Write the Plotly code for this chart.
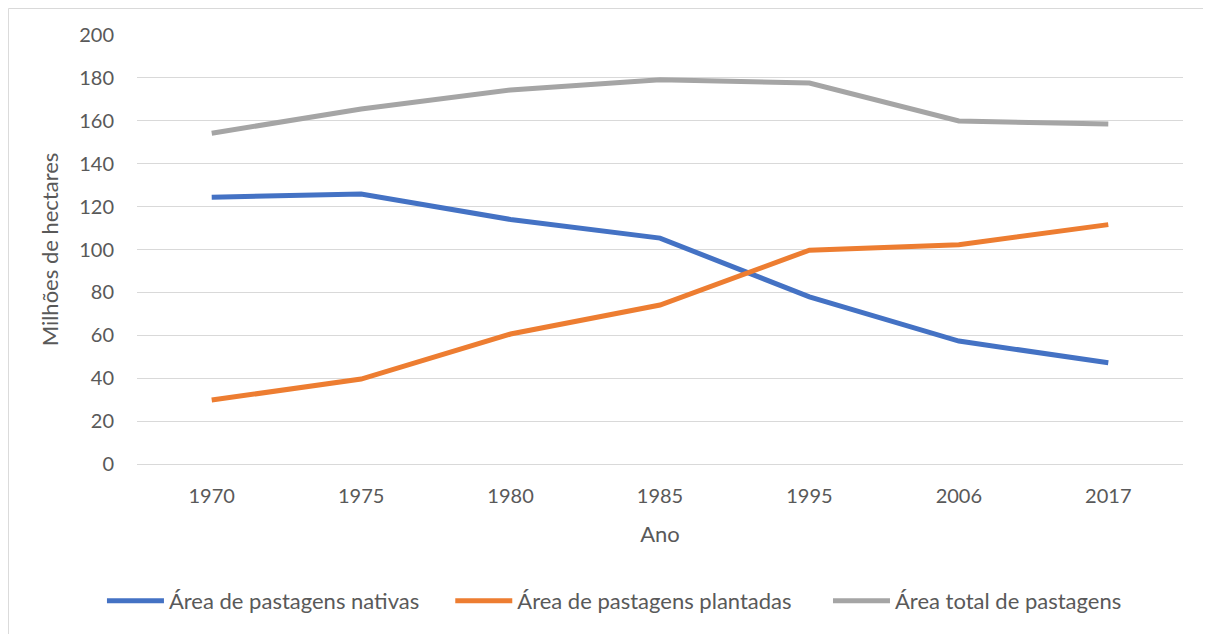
import plotly.graph_objects as go

anos = ["1970", "1975", "1980", "1985", "1995", "2006", "2017"]
nativas = [124.4, 125.9, 114.0, 105.3, 77.9, 57.3, 47.2]
plantadas = [29.8, 39.6, 60.6, 74.1, 99.7, 102.2, 111.6]
total = [154.2, 165.5, 174.4, 179.1, 177.6, 159.9, 158.5]

series = [
    ("Área de pastagens nativas", nativas, "#4472C4", "legend", -0.0335),
    ("Área de pastagens plantadas", plantadas, "#ED7D31", "legend2", 0.2995),
    ("Área total de pastagens", total, "#A5A5A5", "legend3", 0.6606),
]

TXT = "#595959"
font_fam = "Lato, 'Open Sans', sans-serif"

fig = go.Figure()
legends = {}
for i, (name, vals, color, leg, lx) in enumerate(series):
    fig.add_trace(go.Scatter(
        x=anos, y=vals, name=name, mode="lines",
        line=dict(color=color, width=5), legend=leg,
    ))
    legends[leg] = dict(orientation="h", x=lx, xanchor="left", y=-0.319, yanchor="middle",
                        font=dict(size=22, color=TXT, family=font_fam), itemwidth=57,
                        bgcolor="rgba(0,0,0,0)", borderwidth=0)

fig.update_layout(
    width=1203, height=626,
    margin=dict(l=129, r=28, t=27, b=170),
    paper_bgcolor="white", plot_bgcolor="white",
    font=dict(family=font_fam, color=TXT, size=20),
    showlegend=True,
    xaxis=dict(type="category", range=[-0.5, 6.5], showgrid=False,
               showline=True, linecolor="#D9D9D9", linewidth=1,
               ticks="", tickfont=dict(size=20, color=TXT), ticklabelstandoff=14,
               title=dict(text="Ano", font=dict(size=22, color=TXT), standoff=20)),
    yaxis=dict(range=[0, 200], dtick=20, showgrid=True, gridcolor="#D9D9D9",
               gridwidth=1, zeroline=False, showline=False, ticks="",
               tickfont=dict(size=20, color=TXT), ticklabelstandoff=22,
               title=dict(text="Milhões de hectares", font=dict(size=22, color=TXT), standoff=14)),
    **legends,
)

fig.add_shape(type="rect", xref="paper", yref="paper",
              x0=-0.1229, x1=1.0258, y0=-0.6, y1=1.0618,
              line=dict(color="#D9D9D9", width=1), fillcolor="rgba(0,0,0,0)", layer="below")

fig.write_html("out.html")
